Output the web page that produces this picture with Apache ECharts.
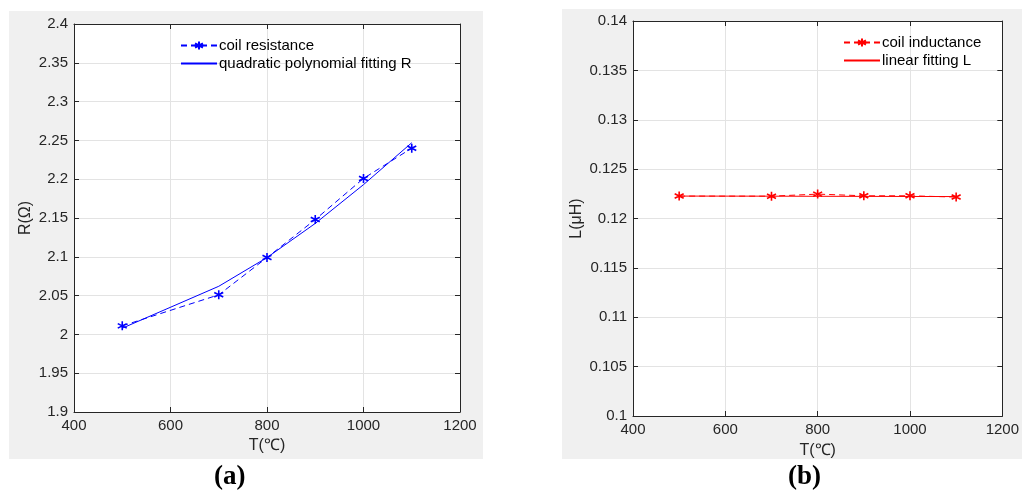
<!DOCTYPE html>
<html><head><meta charset="utf-8">
<script src="https://cdn.jsdelivr.net/npm/echarts@6/dist/echarts.min.js"></script>
<style>html,body{margin:0;padding:0;background:#fff}#c{width:1022px;height:495px}</style>
</head><body><div id="c"></div>
<script>
// ---- data ----
const temps = [500, 700, 800, 900, 1000, 1100];
const resistance = [2.011, 2.051, 2.099, 2.148, 2.201, 2.240];
const resistanceFit = [2.008, 2.062, 2.099, 2.143, 2.193, 2.247];
const inductance = [0.12227, 0.12226, 0.12247, 0.1223, 0.1223, 0.12217];
const inductanceFit = [0.12227, 0.12226, 0.12225, 0.12224, 0.12223, 0.12222];
const xTicks = {min: 400, max: 1200, interval: 200};
const rTicks = {min: 1.9, max: 2.4, interval: 0.05};
const lTicks = {min: 0.1, max: 0.14, interval: 0.005};
const names = {
  r: 'coil resistance', rFit: 'quadratic polynomial fitting R',
  l: 'coil inductance', lFit: 'linear fitting L',
  xName: 'T(℃)', rName: 'R(Ω)', lName: 'L(μH)', a: '(a)', b: '(b)'
};

const FONT = '"Liberation Sans", Arial, sans-serif';
const AX = '#262626';
const star = 'path://M0,-5L0,5M-4.33,-2.5L4.33,2.5M-4.33,2.5L4.33,-2.5';
const fmt = v => String(+v.toFixed(4));

function xAx(grid, name, gap, pos) {
  const main = pos === 'bottom';
  return {
    type: 'value', gridIndex: grid, position: pos, ...xTicks,
    name: main ? name : '', nameLocation: 'middle', nameGap: gap,
    nameTextStyle: {fontFamily: FONT, fontSize: 16, color: AX},
    axisLine: {show: true, lineStyle: {color: AX, width: 1}},
    axisTick: {show: true, inside: true, length: 5, lineStyle: {color: AX}},
    axisLabel: {show: main, margin: 6, fontFamily: FONT, fontSize: 15, color: AX, formatter: fmt},
    splitLine: {show: main, lineStyle: {color: '#e3e3e3', width: 1}}
  };
}
function yAx(grid, ticks, name, gap, pos) {
  const main = pos === 'left';
  return {
    type: 'value', gridIndex: grid, position: pos, ...ticks,
    name: main ? name : '', nameLocation: 'middle', nameGap: gap, nameRotate: 90,
    nameTextStyle: {fontFamily: FONT, fontSize: 16, color: AX},
    axisLine: {show: true, lineStyle: {color: AX, width: 1}},
    axisTick: {show: true, inside: true, length: 5, lineStyle: {color: AX}},
    axisLabel: {show: main, margin: 6, fontFamily: FONT, fontSize: 15, color: AX, formatter: fmt},
    splitLine: {show: main, lineStyle: {color: '#e3e3e3', width: 1}}
  };
}
function pairs(xs, ys) { return xs.map((x, i) => [x, ys[i]]); }
const noSym = {color: 'rgba(0,0,0,0)', borderWidth: 0, opacity: 0};

const chart = echarts.init(document.getElementById('c'), null, {renderer: 'canvas'});
chart.setOption({
  animation: false,
  backgroundColor: '#ffffff',
  graphic: [
    {type: 'rect', z: -10, silent: true, shape: {x: 9, y: 11, width: 474, height: 448}, style: {fill: '#f0f0f0'}},
    {type: 'rect', z: -10, silent: true, shape: {x: 562, y: 9, width: 460, height: 450}, style: {fill: '#f0f0f0'}},
    {type: 'text', left: 214, top: 464, style: {text: names.a, font: 'bold 27px "Liberation Serif", "Times New Roman", serif', fill: '#000'}},
    {type: 'text', left: 788, top: 464, style: {text: names.b, font: 'bold 27px "Liberation Serif", "Times New Roman", serif', fill: '#000'}}
  ],
  grid: [
    {left: 74, right: 562, top: 24, bottom: 83, show: true, backgroundColor: '#ffffff', borderWidth: 0},
    {left: 633, right: 14, top: 21, bottom: 79, show: true, backgroundColor: '#ffffff', borderWidth: 0}
  ],
  xAxis: [xAx(0, names.xName, 26, 'bottom'), xAx(0, '', 0, 'top'), xAx(1, names.xName, 27, 'bottom'), xAx(1, '', 0, 'top')],
  yAxis: [yAx(0, rTicks, names.rName, 40, 'left'), yAx(0, rTicks, '', 0, 'right'), yAx(1, lTicks, names.lName, 48, 'left'), yAx(1, lTicks, '', 0, 'right')],
  legend: [
    {data: [names.r, {name: names.rFit, itemStyle: noSym}], orient: 'vertical', left: 180, top: 38, itemWidth: 36, itemHeight: 10, itemGap: 3,
     textStyle: {fontFamily: FONT, fontSize: 15, color: '#000', padding: [0, 0, 0, -3]}, padding: 0},
    {data: [names.l, {name: names.lFit, itemStyle: noSym}], orient: 'vertical', left: 843, top: 35, itemWidth: 36, itemHeight: 10, itemGap: 3,
     textStyle: {fontFamily: FONT, fontSize: 15, color: '#000', padding: [0, 0, 0, -3]}, padding: 0}
  ],
  series: [
    {name: names.r, type: 'line', xAxisIndex: 0, yAxisIndex: 0, data: pairs(temps, resistance),
     symbol: star, symbolSize: 9, lineStyle: {color: '#0000ff', width: 1, type: [6, 4]},
     itemStyle: {color: 'none', borderColor: '#0000ff', borderWidth: 1.6}, color: '#0000ff'},
    {name: names.rFit, type: 'line', xAxisIndex: 0, yAxisIndex: 0, data: pairs(temps, resistanceFit),
     symbol: 'none', lineStyle: {color: '#0000ff', width: 1}, color: '#0000ff'},
    {name: names.l, type: 'line', xAxisIndex: 2, yAxisIndex: 2, data: pairs(temps, inductance),
     symbol: star, symbolSize: 9, lineStyle: {color: '#ff0000', width: 1, type: [6, 4]},
     itemStyle: {color: 'none', borderColor: '#ff0000', borderWidth: 1.6}, color: '#ff0000'},
    {name: names.lFit, type: 'line', xAxisIndex: 2, yAxisIndex: 2, data: pairs(temps, inductanceFit),
     symbol: 'none', lineStyle: {color: '#ff0000', width: 1}, color: '#ff0000'}
  ]
});
</script></body></html>
